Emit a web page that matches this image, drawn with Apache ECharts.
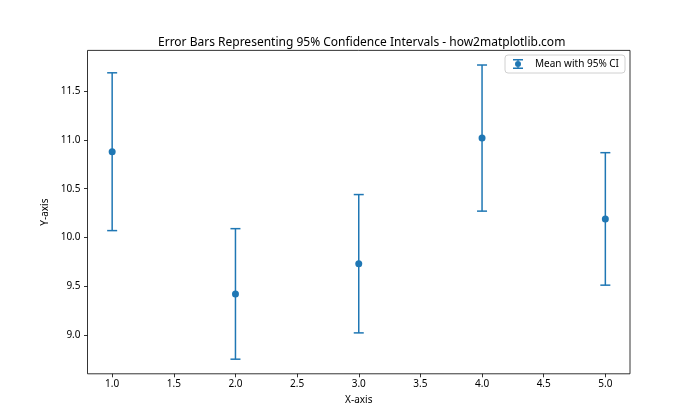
<!DOCTYPE html>
<html>
<head>
<meta charset="utf-8">
<script src="https://cdn.jsdelivr.net/npm/echarts@6/dist/echarts.min.js"></script>
<style>
html,body{margin:0;padding:0;background:#fff;}
#main{width:700px;height:420px;}
</style>
</head>
<body>
<div id="main"></div>
<script>
const xValues = [1, 2, 3, 4, 5];
const means = [10.88, 9.42, 9.73, 11.02, 10.19];
const ciHalf = [0.81, 0.67, 0.71, 0.75, 0.68];
const xTicks = [1.0, 1.5, 2.0, 2.5, 3.0, 3.5, 4.0, 4.5, 5.0];
const yTicks = [9.0, 9.5, 10.0, 10.5, 11.0, 11.5];
const seriesName = 'Mean with 95% CI';
const titleText = 'Error Bars Representing 95% Confidence Intervals - how2matplotlib.com';

const C = '#1f77b4';
const FONT = 'Noto Sans';
const chart = echarts.init(document.getElementById('main'));

const errData = xValues.map((x, i) => [x, means[i] - ciHalf[i], means[i] + ciHalf[i]]);
const ptData = xValues.map((x, i) => [x, means[i]]);

const iconPath = 'path://M0,0 H10 V1.4 H0 Z M4.3,0 H5.7 V10 H4.3 Z M0,8.6 H10 V10 H0 Z M8,5 A3,3 0 1,1 2,5 A3,3 0 1,1 8,5 Z';

chart.setOption({
  animation: false,
  backgroundColor: '#fff',
  title: {
    text: titleText,
    left: 153,
    top: 32,
    textStyle: {fontFamily: FONT, fontSize: 12, fontWeight: 'normal', color: '#000'}
  },
  legend: {
    data: [{name: seriesName, icon: iconPath, itemStyle: {color: C, opacity: 1}}],
    right: 75,
    top: 55,
    itemWidth: 10,
    itemHeight: 10,
    padding: [4, 6, 4, 8],
    borderColor: '#d0d0d0',
    borderWidth: 1,
    borderRadius: 3,
    backgroundColor: 'rgba(255,255,255,0.8)',
    textStyle: {fontFamily: FONT, fontSize: 10, color: '#000', padding: [0, 0, 0, 7]}
  },
  grid: {
    left: 87.5, right: 70, top: 50.4, bottom: 46.2,
    show: true, borderColor: '#000', borderWidth: 0.8
  },
  xAxis: {
    type: 'value', min: 0.8, max: 5.2,
    name: 'X-axis', nameLocation: 'middle', nameGap: 21,
    nameTextStyle: {fontFamily: FONT, fontSize: 10, color: '#000'},
    splitLine: {show: false},
    axisLine: {show: false},
    axisTick: {show: true, length: 3.5, customValues: xTicks, lineStyle: {color: '#000', width: 0.8}},
    axisLabel: {customValues: xTicks, margin: 5, fontFamily: FONT, fontSize: 10, color: '#000',
      formatter: v => v.toFixed(1)}
  },
  yAxis: {
    type: 'value', min: 8.6, max: 11.92,
    name: 'Y-axis', nameLocation: 'middle', nameGap: 24,
    nameTextStyle: {fontFamily: FONT, fontSize: 10, color: '#000'},
    splitLine: {show: false},
    axisLine: {show: false},
    axisTick: {show: true, length: 3.5, customValues: yTicks, lineStyle: {color: '#000', width: 0.8}},
    axisLabel: {customValues: yTicks, margin: 7, fontFamily: FONT, fontSize: 10, color: '#000',
      formatter: v => v.toFixed(1)}
  },
  series: [
    {
      type: 'custom',
      name: 'errbars',
      data: errData,
      encode: {x: 0, y: [1, 2]},
      renderItem: function (params, api) {
        const x = api.value(0);
        const lo = api.coord([x, api.value(1)]);
        const hi = api.coord([x, api.value(2)]);
        const cap = 5;
        const st = {stroke: C, lineWidth: 1.5};
        return {
          type: 'group',
          children: [
            {type: 'line', shape: {x1: lo[0], y1: lo[1], x2: hi[0], y2: hi[1]}, style: st},
            {type: 'line', shape: {x1: lo[0] - cap, y1: lo[1], x2: lo[0] + cap, y2: lo[1]}, style: st},
            {type: 'line', shape: {x1: hi[0] - cap, y1: hi[1], x2: hi[0] + cap, y2: hi[1]}, style: st}
          ]
        };
      },
      z: 2
    },
    {
      type: 'scatter',
      name: seriesName,
      data: ptData,
      symbol: 'circle',
      symbolSize: 7,
      itemStyle: {color: C, opacity: 1},
      z: 3
    }
  ]
});
</script>
</body>
</html>
